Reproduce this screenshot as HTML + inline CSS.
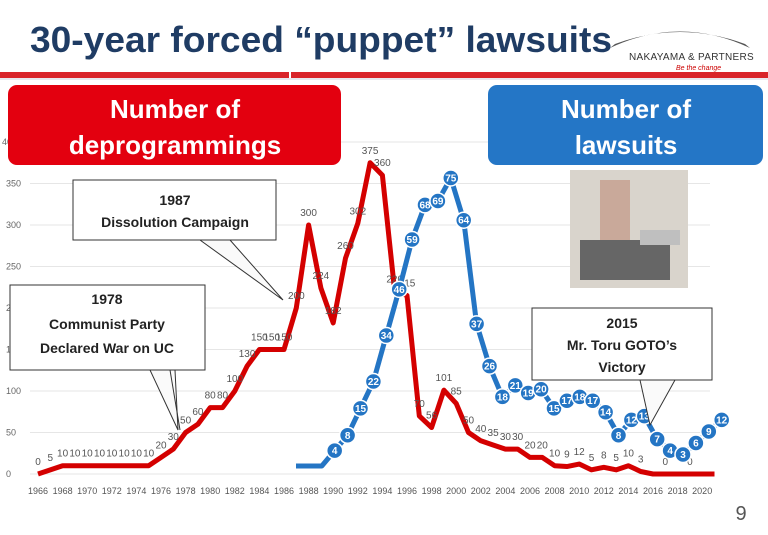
<!DOCTYPE html>
<html><head><meta charset="utf-8"><style>
html,body{margin:0;padding:0;background:#fff;}
body{width:768px;height:530px;overflow:hidden;font-family:"Liberation Sans",sans-serif;}
</style></head><body>
<svg id="s" width="768" height="530" xmlns="http://www.w3.org/2000/svg" font-family="Liberation Sans, sans-serif">
<rect width="768" height="530" fill="#fff"/>
<text x="30" y="52" font-size="36" font-weight="bold" fill="#1f3c64" textLength="582" lengthAdjust="spacingAndGlyphs">30-year forced “puppet” lawsuits</text>
<path d="M610 48 Q680 15 750 48 L745 44 Q680 20 615 44Z" fill="#555"/>
<text x="629" y="60" font-size="10" fill="#333" letter-spacing="0.3">NAKAYAMA &amp; PARTNERS</text>
<text x="676" y="70" font-size="7" font-style="italic" fill="#c00">Be the change</text>
<rect x="0" y="72" width="768" height="6" fill="#d9242a"/>
<rect x="289" y="72" width="2" height="6" fill="#fff"/>
<rect x="0" y="78" width="768" height="2" fill="#e8e8ef"/>
<g id="grid" stroke="#e6e6e6" stroke-width="1"></g>
<g id="ylab" font-size="9" fill="#666"></g>
<g id="xlab" font-size="9" fill="#555"></g>
<g id="red"></g>
<g id="blue"></g>
<rect x="8" y="85" width="333" height="80" rx="9" fill="#e3000f"/>
<text x="175" y="118" font-size="26" font-weight="bold" fill="#fff" text-anchor="middle">Number of</text>
<text x="175" y="154" font-size="26" font-weight="bold" fill="#fff" text-anchor="middle">deprogrammings</text>
<rect x="488" y="85" width="275" height="80" rx="9" fill="#2476c6"/>
<text x="626" y="118" font-size="26" font-weight="bold" fill="#fff" text-anchor="middle">Number of</text>
<text x="626" y="154" font-size="26" font-weight="bold" fill="#fff" text-anchor="middle">lawsuits</text>
<rect x="570" y="170" width="118" height="118" fill="#d9d4cc"/>
<rect x="600" y="180" width="30" height="80" fill="#c9a99a"/>
<rect x="580" y="240" width="90" height="40" fill="#666"/>
<rect x="640" y="230" width="40" height="15" fill="#bfbfbf"/>
<g stroke="#333" stroke-width="1" fill="#fff">
<path d="M230 240 L283 300 L200 240Z" fill="#fafafa"/>
<rect x="73" y="180" width="203" height="60"/>
<path d="M150 370 L178 430 L175 370Z" fill="#fafafa"/>
<path d="M170 370 L180 430" fill="none"/>
<rect x="10" y="285" width="195" height="85"/>
<path d="M640 380 L650 425 L675 380Z" fill="#fafafa"/>
<rect x="532" y="308" width="180" height="72"/>
</g>
<g font-size="14" font-weight="bold" fill="#222" text-anchor="middle">
<text x="175" y="205">1987</text><text x="175" y="227">Dissolution Campaign</text>
<text x="107" y="304">1978</text><text x="107" y="329">Communist Party</text><text x="107" y="353">Declared War on UC</text>
<text x="622" y="328">2015</text><text x="622" y="350">Mr. Toru GOTO’s</text><text x="622" y="372">Victory</text>
</g>
<text x="741" y="520" font-size="20" fill="#555" text-anchor="middle">9</text>
</svg>
<script>
const NS="http://www.w3.org/2000/svg";
function el(p,t,a,txt){const e=document.createElementNS(NS,t);for(const k in a)e.setAttribute(k,a[k]);if(txt!==undefined)e.textContent=txt;document.getElementById(p).appendChild(e);return e;}
const X=y=>38+(y-1966)*12.3;
const YR=v=>474-v*0.83;
const YB=v=>466-v*3.84;
const XB=i=>296+i*12.9;
for(let v=0;v<=400;v+=50){el('grid','line',{x1:30,x2:710,y1:YR(v),y2:YR(v)});el('ylab','text',{x:v==400?2:6,y:YR(v)+3},v);}
for(let y=1966;y<=2020;y+=2)el('xlab','text',{x:38+(y-1966)*12.3,y:494,'text-anchor':'middle'},y);
const red=[0,5,10,10,10,10,10,10,10,10,20,30,50,60,80,80,100,130,150,150,150,200,300,224,182,260,302,375,360,220,215,70,56,101,85,50,40,35,30,30,20,20,10,9,12,5,8,5,10,3,0,0,0,0,0,0];
let d=red.map((v,i)=>(i?'L':'M')+X(1966+i)+' '+YR(v)).join(' ');
el('red','path',{d:d,fill:'none',stroke:'#d40000','stroke-width':5,'stroke-linejoin':'round'});
red.forEach((v,i)=>{if(i<50||i==51||i==53)el('red','text',{x:X(1966+i),y:YR(v)-9,'font-size':10,fill:'#555','text-anchor':'middle'},v);});
const blue=[0,0,0,4,8,15,22,34,46,59,68,69,75,64,37,26,18,21,19,20,15,17,18,17,14,8,12,13,7,4,3,6,9,12];
d=blue.map((v,i)=>(i?'L':'M')+XB(i)+' '+YB(v)).join(' ');
el('blue','path',{d:d,fill:'none',stroke:'#2475c4','stroke-width':5,'stroke-linejoin':'round'});
blue.forEach((v,i)=>{if(i<3)return;el('blue','circle',{cx:XB(i),cy:YB(v),r:8,fill:'#2475c4',stroke:'#fff','stroke-width':1.5});el('blue','text',{x:XB(i),y:YB(v)+3.5,'font-size':10,'font-weight':'bold',fill:'#fff','text-anchor':'middle'},v);});
</script>
</body></html>
